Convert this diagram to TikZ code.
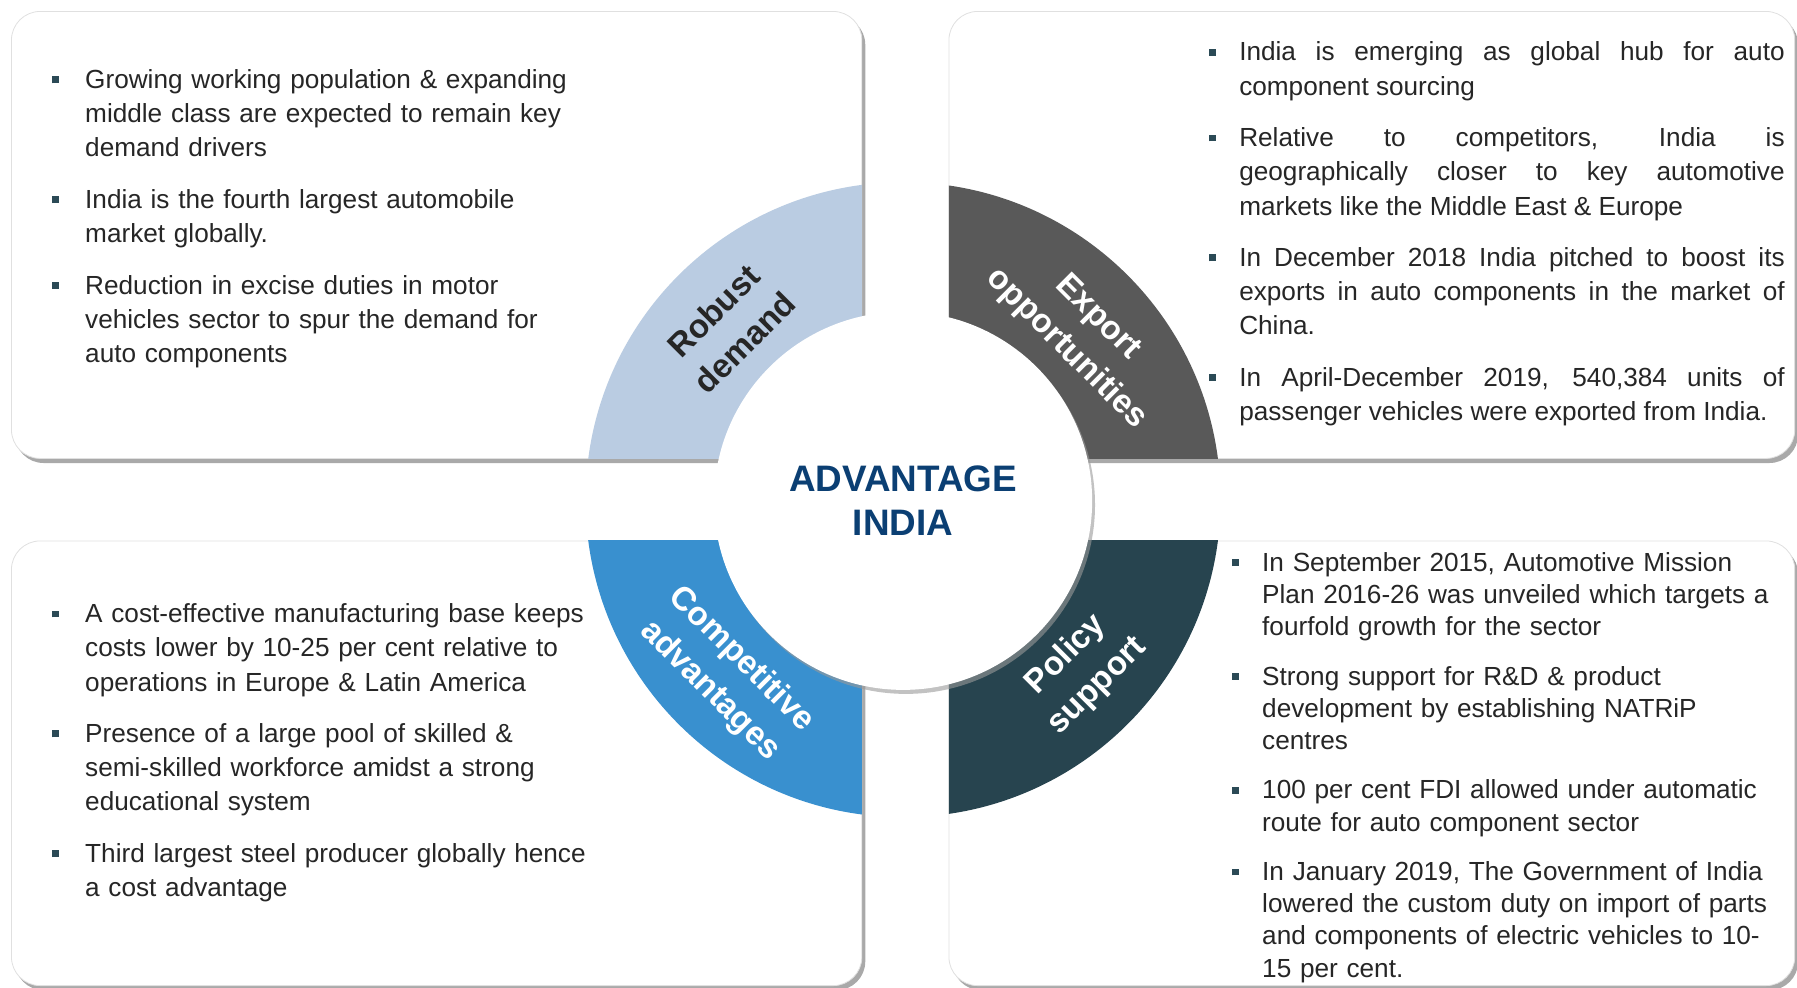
\documentclass[tikz,border=0pt]{standalone}
\usepackage{fontspec}
\setmainfont{Liberation Sans}
\usepackage{enumitem}
\usetikzlibrary{calc,shadows}

\definecolor{demandc}{HTML}{BACCE2}
\definecolor{exportc}{HTML}{595959}
\definecolor{competc}{HTML}{3990CF}
\definecolor{policyc}{HTML}{27444F}
\definecolor{hubc}{HTML}{0B3F73}
\definecolor{bodyc}{HTML}{262626}
\definecolor{bulletc}{HTML}{2B4A56}

\newcommand{\sqbullet}{\textcolor{bulletc}{\rule[0.09cm]{0.12cm}{0.12cm}}}
\setlist[itemize]{label=\sqbullet,leftmargin=0.58cm,labelwidth=0.12cm,labelsep=0.46cm,
  align=left,itemsep=0.3cm,parsep=0pt,topsep=0pt,partopsep=0pt}

\begin{document}
\begin{tikzpicture}[x=0.02cm,y=-0.02cm,
  panel/.style={fill=white,draw=black!12,rounded corners=0.5cm,
    drop shadow={shadow xshift=0.06cm,shadow yshift=-0.08cm,fill=black!45,opacity=0.75}},
  hub node/.style={circle,fill=white,minimum size=6.6cm,inner sep=0pt,align=center,
    text=hubc,font=\fontsize{18.3}{22}\selectfont\bfseries,
    drop shadow={shadow xshift=0.05cm,shadow yshift=-0.07cm,fill=black!40,opacity=0.6}},
  ring label/.style={align=center,font=\fontsize{16.5}{22}\selectfont\bfseries,text=white},
  list node/.style={anchor=north west,inner sep=0pt,text=bodyc,
    font=\fontsize{13}{17}\selectfont,align=left}]

  \useasboundingbox (0,0) rectangle (1568,862);

  % panels
  \path[panel] (10,10) rectangle (752,400);
  \path[panel] (828,10) rectangle (1566,400);
  \path[panel] (10,472) rectangle (752,860);
  \path[panel] (828,472) rectangle (1566,860);

  % ring quarters
  \begin{scope}
    \clip (10,10) rectangle (752,400);
    \fill[demandc] (788,436) circle [radius=277];
  \end{scope}
  \begin{scope}
    \clip (828,10) rectangle (1566,400);
    \fill[exportc] (788,436) circle [radius=277];
  \end{scope}
  \begin{scope}
    \clip (10,472) rectangle (752,860);
    \fill[competc] (788,436) circle [radius=277];
  \end{scope}
  \begin{scope}
    \clip (828,472) rectangle (1566,860);
    \fill[policyc] (788,436) circle [radius=277];
  \end{scope}

  \node[hub node] (hub) at (788,437) {ADVANTAGE\\INDIA};

  \node[ring label,text=bodyc,rotate=45] (demand) at ($(hub)+(-152,-152)$) {Robust\\demand};
  \node[ring label,rotate=-45] (export) at ($(hub)+(156,-146)$) {Export\\opportunities};
  \node[ring label,rotate=-45] (compet) at ($(hub)+(-155,152)$) {Competitive\\advantages};
  \node[ring label,rotate=45] (policy) at ($(hub)+(156,148)$) {Policy\\support};

  % bullet lists
  \node[list node,text width=10cm] (demand list) at (45,47) {%
    \begin{itemize}
      \item Growing working population \& expanding\\ middle class are expected to remain key\\ demand drivers
      \item India is the fourth largest automobile\\ market globally.
      \item Reduction in excise duties in motor\\ vehicles sector to spur the demand for\\ auto components
    \end{itemize}};

  \node[list node,text width=10.04cm,align=justify] (export list) at (1055,23) {%
    \begin{itemize}[leftmargin=0.52cm,labelsep=0.40cm]
      \item India is emerging as global hub for auto\linebreak component sourcing
      \item Relative to competitors, India is\linebreak geographically closer to key automotive\linebreak markets like the Middle East \& Europe
      \item In December 2018 India pitched to boost its\linebreak exports in auto components in the market of\linebreak China.
      \item In April-December 2019, 540,384 units of\linebreak passenger vehicles were exported from India.
    \end{itemize}};

  \node[list node,text width=10cm] (compet list) at (45,513) {%
    \begin{itemize}
      \item A cost-effective manufacturing base keeps\\ costs lower by 10-25 per cent relative to\\ operations in Europe \& Latin America
      \item Presence of a large pool of skilled \&\\ semi-skilled workforce amidst a strong\\ educational system
      \item Third largest steel producer globally hence\\ a cost advantage
    \end{itemize}};

  \node[list node,text width=9.5cm,font=\fontsize{13}{16}\selectfont] (policy list) at (1075,470) {%
    \begin{itemize}[leftmargin=0.52cm,labelsep=0.40cm]
      \item In September 2015, Automotive Mission\\ Plan 2016-26 was unveiled which targets a\\ fourfold growth for the sector
      \item Strong support for R\&D \& product\\ development by establishing NATRiP\\ centres
      \item 100 per cent FDI allowed under automatic\\ route for auto component sector
      \item In January 2019, The Government of India\\ lowered the custom duty on import of parts\\ and components of electric vehicles to 10-\\ 15 per cent.
    \end{itemize}};

\end{tikzpicture}
\end{document}
